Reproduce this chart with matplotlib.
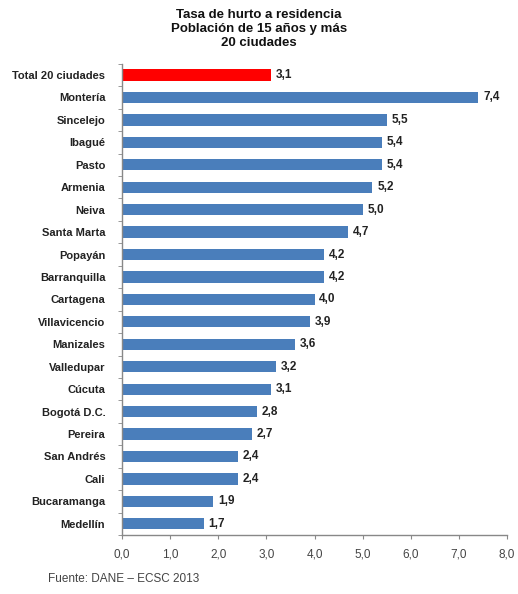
import matplotlib
matplotlib.use("Agg")
import matplotlib.pyplot as plt
from matplotlib import font_manager

cities = ["Total 20 ciudades", "Montería", "Sincelejo", "Ibagué", "Pasto", "Armenia", "Neiva",
          "Santa Marta", "Popayán", "Barranquilla", "Cartagena", "Villavicencio", "Manizales",
          "Valledupar", "Cúcuta", "Bogotá D.C.", "Pereira", "San Andrés", "Cali",
          "Bucaramanga", "Medellín"]
values = [3.1, 7.4, 5.5, 5.4, 5.4, 5.2, 5.0, 4.7, 4.2, 4.2, 4.0, 3.9, 3.6, 3.2, 3.1, 2.8,
          2.7, 2.4, 2.4, 1.9, 1.7]
xticks = [0, 1, 2, 3, 4, 5, 6, 7, 8]

names = {f.name for f in font_manager.fontManager.ttflist}
fam = "Liberation Sans Narrow" if "Liberation Sans Narrow" in names else "Liberation Sans"
plt.rcParams['font.family'] = [fam, 'DejaVu Sans']

fig = plt.figure(figsize=(5.18, 5.94), dpi=100)
ax = fig.add_axes([0.2355, 0.0993, 0.7435, 0.7933])

n = len(cities)
ypos = list(range(n))
colors = ["#ff0000"] + ["#4a7ebb"] * (n - 1)
ax.barh(ypos, values, height=0.5, color=colors, zorder=2)
for y, v in zip(ypos, values):
    ax.text(v + 0.1, y, f"{v:.1f}".replace(".", ","), va="center", ha="left",
            fontsize=8.5, fontweight="bold", color="#222222")

ax.set_ylim(n - 0.5, -0.5)
ax.set_xlim(0, 8)
ax.set_yticks(ypos)
ax.set_yticklabels(cities, fontsize=8, fontweight="bold", color="#222222")
ax.set_xticks(xticks)
ax.set_xticklabels([f"{t:.1f}".replace(".", ",") for t in xticks], fontsize=8.5, color="#444444")
ax.tick_params(axis="y", length=0, pad=12)
ax.tick_params(axis="x", length=3, color="#888888", pad=7)
# minor ticks at category boundaries on y
ax.set_yticks([i + 0.5 for i in range(-1, n)], minor=True)
ax.tick_params(axis="y", which="minor", length=3, color="#888888")
for s in ["top", "right"]:
    ax.spines[s].set_visible(False)
for s in ["left", "bottom"]:
    ax.spines[s].set_color("#888888")
    ax.spines[s].set_linewidth(1.0)

fig.text(0.5, 0.985, "Tasa de hurto a residencia\nPoblación de 15 años y más\n20 ciudades",
         ha="center", va="top", fontsize=9.5, fontweight="bold", color="#111111", linespacing=1.25)
fig.text(0.093, 0.02, "Fuente: DANE – ECSC 2013", fontsize=8.5, color="#444444")

fig.savefig("out.png", dpi=100)
